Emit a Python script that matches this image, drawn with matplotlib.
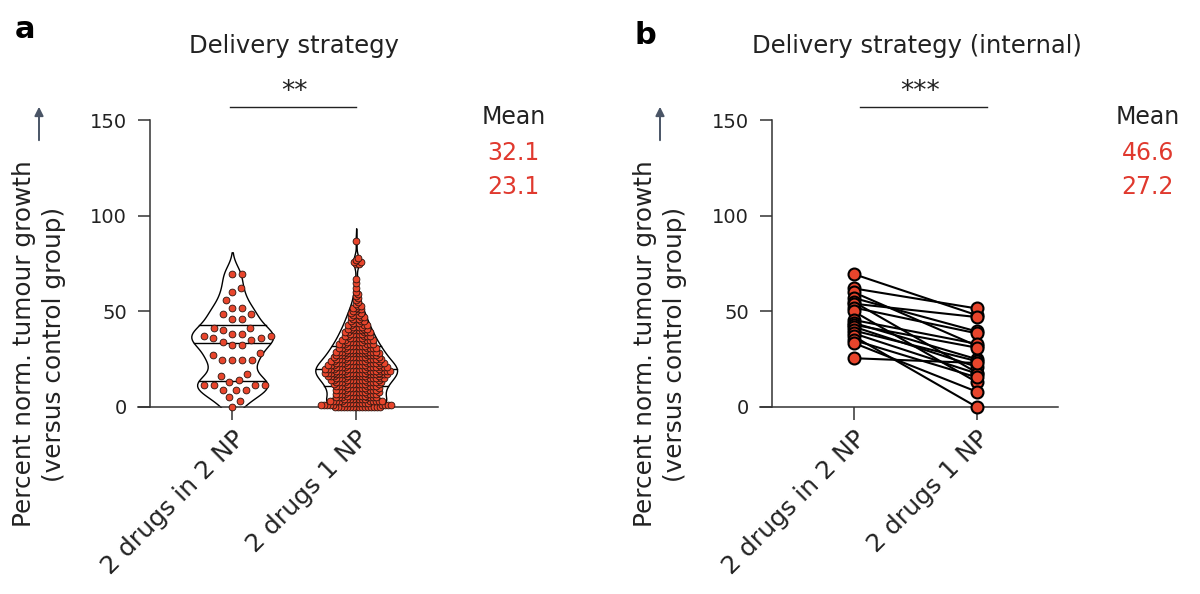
import numpy as np
import matplotlib
matplotlib.use("Agg")
import matplotlib.pyplot as plt
import seaborn as sns

categories = ["2 drugs in 2 NP", "2 drugs 1 NP"]
yticks = [0, 50, 100, 150]

# panel a, "2 drugs in 2 NP": read point by point
a_two_np = [69.5, 69.5, 62, 60, 56, 52, 52, 48.5, 48.5, 46, 46, 41.5, 41.5, 40.5,
            38, 38, 37, 37, 36, 36, 35, 34, 32.5, 32.5, 28, 27, 24.5, 24.5, 24.5, 24.5,
            17.5, 16, 14, 13, 11.5, 11.5, 11.5, 11.5, 9, 9, 9, 5, 3, 0]

# panel a, "2 drugs 1 NP": too dense to read one by one -> estimated counts per 1 % step
a_one_np_levels = list(range(0, 61)) + [62, 65, 67, 75, 76, 77, 78, 87]
a_one_np_counts = [16, 9, 9, 10, 8, 7, 7, 8, 8, 8,
                   8, 8, 9, 9, 10, 10, 11, 11, 12, 12,
                   12, 11, 11, 10, 10, 9, 9, 8, 8, 8,
                   7, 7, 7, 6, 6, 6, 5, 5, 5, 5,
                   4, 4, 4, 4, 3, 3, 3, 3, 3, 2,
                   2, 2, 2, 2, 1, 1, 1, 1, 1, 1, 1,
                   1, 1, 1, 2, 2, 1, 1, 1]
a_one_np = np.repeat(a_one_np_levels, a_one_np_counts).astype(float)

# panel b, paired values (same index = same experiment)
b_two_np = [69.5, 62, 60, 57, 55, 54, 52, 50, 45.5, 44, 43, 42, 40, 38.5, 37, 35, 33.5, 25.5]
b_one_np = [48, 51.5, 32, 39.5, 18, 47, 38.5, 13, 33, 25, 31, 21, 24, 17.5, 0, 15.5, 8, 23]

a_means = ["32.1", "23.1"]
b_means = ["46.6", "27.2"]
a_stars = "**"
b_stars = "***"

RED = "#e8452c"
TXT_RED = "#e0392e"
DARK = "#222222"
ARROW = "#4a5566"

plt.rcParams["font.family"] = ["DejaVu Sans"]

fig = plt.figure(figsize=(12, 5.94), dpi=100)
W, H = 1200, 594


def fx(px):
    return px / W


def fy(py):
    return 1 - py / H


def style_axis(ax):
    ax.set_xlim(-0.76, 1.66)
    ax.set_ylim(0, 150)
    for s in ["top", "right"]:
        ax.spines[s].set_visible(False)
    ax.spines["left"].set_position(("data", -0.665))
    ax.spines["left"].set_bounds(0, 150)
    for s in ["left", "bottom"]:
        ax.spines[s].set_linewidth(1.1)
        ax.spines[s].set_color("#333333")
    ax.set_yticks(yticks)
    ax.set_xticks([0, 1])
    ax.set_xticklabels(categories, rotation=45, ha="right", rotation_mode="anchor",
                       fontsize=18)
    ax.tick_params(axis="y", length=8.5, width=1.1, labelsize=14, pad=8, colors="#333333",
                   labelcolor=DARK)
    ax.tick_params(axis="x", length=9, width=1.1, pad=5, colors="#333333", labelcolor=DARK)
    ax.set_xlabel("")
    ax.set_ylabel("")
    ax.grid(False)
    ax.patch.set_alpha(0)


def swarm_offsets(vals, d_px, ypx):
    y = np.asarray(vals, float) * ypx
    xs = np.zeros(len(y))
    placed_x, placed_y = [], []
    for i in np.argsort(y, kind="stable"):
        px = np.array(placed_x, float)
        py = np.array(placed_y, float)
        near = np.abs(py - y[i]) < d_px
        nx, ny = px[near], py[near]
        dx = np.sqrt(d_px ** 2 - (ny - y[i]) ** 2)
        cands = np.concatenate([[0.0], nx + dx, nx - dx])
        cands = cands[np.argsort(np.abs(cands), kind="stable")]
        for c in cands:
            if np.all((nx - c) ** 2 + (ny - y[i]) ** 2 >= d_px ** 2 - 1e-6):
                xs[i] = c
                break
        placed_x.append(xs[i])
        placed_y.append(y[i])
    return xs


# ---------------- panel a ----------------
axa = fig.add_axes([fx(138), fy(407), fx(300), 287 / H])
groups = [np.array(a_two_np, float), a_one_np]
sns.violinplot(data=groups, ax=axa, inner=None, color="white", linecolor="black",
               linewidth=1.0, density_norm="width", width=0.66, cut=2.2, bw_adjust=0.6)
style_axis(axa)

# quartile lines across the violins
for i, vals in enumerate(groups):
    verts = axa.collections[i].get_paths()[0].vertices
    right = verts[verts[:, 0] >= i]
    order = np.argsort(right[:, 1])
    for q in np.percentile(vals, [25, 50, 75]):
        hw = np.interp(q, right[order, 1], right[order, 0]) - i
        axa.plot([i - hw, i + hw], [q, q], color="black", lw=1.0, zorder=2)

x_px = axa.transData.transform((1, 0))[0] - axa.transData.transform((0, 0))[0]
y_px = axa.transData.transform((0, 1))[1] - axa.transData.transform((0, 0))[1]
for i, (vals, d) in enumerate(zip(groups, [10.0, 3.0])):
    offs = swarm_offsets(vals, d, y_px) / x_px
    axa.scatter(i + offs, vals, s=24, color=RED, edgecolor="#2a1510", linewidth=0.6,
                zorder=3, clip_on=False)

# ---------------- panel b ----------------
axb = fig.add_axes([fx(760), fy(407), fx(298), 287 / H])
for l, r in zip(b_two_np, b_one_np):
    axb.plot([0, 1], [l, r], color="black", lw=1.5, zorder=2, clip_on=False)
axb.plot(np.zeros(len(b_two_np)), b_two_np, "o", ms=8.6, mfc=RED, mec="black", mew=1.5,
         zorder=3, clip_on=False)
axb.plot(np.ones(len(b_one_np)), b_one_np, "o", ms=8.6, mfc=RED, mec="black", mew=1.5,
         zorder=3, clip_on=False)
style_axis(axb)

# ---------------- annotations ----------------
for ax, stars, x0, x1, xs, means, mx in [
        (axa, a_stars, -0.02, 1.0, 0.5, a_means, 2.27),
        (axb, b_stars, 0.05, 1.08, 0.54, b_means, 2.39)]:
    ax.plot([x0, x1], [156.8, 156.8], color=DARK, lw=1.0, clip_on=False)
    ax.text(xs, 164.5, stars, ha="center", va="center", fontsize=19, color=DARK,
            clip_on=False)
    ax.text(mx, 151.5, "Mean", ha="center", va="center", fontsize=17, color=DARK,
            clip_on=False)
    ax.text(mx, 132.5, means[0], ha="center", va="center", fontsize=17, color=TXT_RED,
            clip_on=False)
    ax.text(mx, 115, means[1], ha="center", va="center", fontsize=17, color=TXT_RED,
            clip_on=False)

fig.text(fx(294), fy(46), "Delivery strategy", ha="center", va="center", fontsize=17.5,
         color=DARK)
fig.text(fx(917), fy(46), "Delivery strategy (internal)", ha="center", va="center",
         fontsize=17.5, color=DARK)
fig.text(fx(25), fy(30), "a", ha="center", va="center", fontsize=22, fontweight="bold")
fig.text(fx(645), fy(35), "b", ha="center", va="center", fontsize=22, fontweight="bold")

ylabel = "Percent norm. tumour growth\n(versus control group)"
for cx in [39, 660]:
    fig.text(fx(cx), fy(344), ylabel, rotation=90, ha="center", va="center",
             fontsize=17.8, color=DARK, linespacing=1.3, multialignment="center")
    fig.add_artist(matplotlib.patches.FancyArrowPatch(
        (fx(cx), fy(143)), (fx(cx), fy(104)), transform=fig.transFigure,
        arrowstyle="-|>", mutation_scale=13, lw=1.4, color=ARROW))

fig.savefig("out.png", dpi=100)
